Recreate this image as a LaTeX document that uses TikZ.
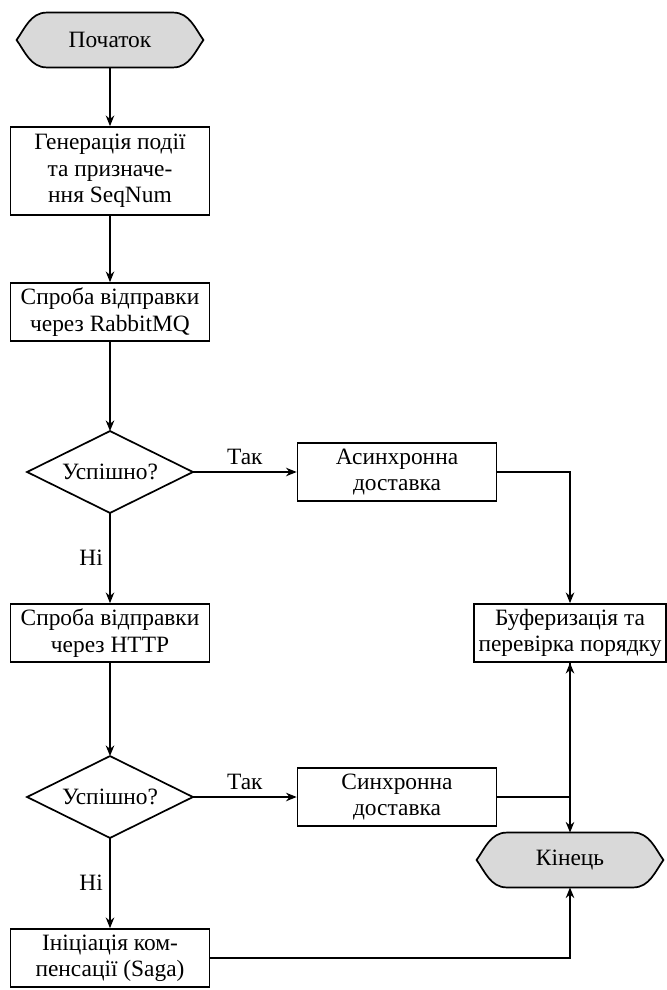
\documentclass[tikz,border=0pt]{standalone}
\usepackage{fontspec}
\setmainfont{Liberation Serif}
\usetikzlibrary{arrows.meta,calc,backgrounds}
\begin{document}
\begin{tikzpicture}[x=0.47pt,y=-0.47pt,
  font=\fontsize{11}{12.4}\selectfont,
  box/.style={draw, thick, align=center, inner sep=0pt, minimum width=199*0.47pt, minimum height=58*0.47pt},
  dec/.style={inner sep=0pt, minimum width=165*0.47pt, minimum height=81*0.47pt},
  term/.style={inner sep=0pt, minimum width=186*0.47pt, minimum height=54*0.47pt},
  termshape/.style={draw, thick, fill=gray!30},
  arr/.style={thick, -{Stealth[length=5pt,width=4pt]}},
  lbl/.style={inner sep=3pt}]
\useasboundingbox (0,0) rectangle (666,990);

\node[term] (start) at (110,40) {Початок};
\node[box, minimum height=88*0.47pt] (gen) at (110,171) {Генерація події\\та призначе-\\ння SeqNum};
\node[box] (try1) at (110,312) {Спроба відправки\\через RabbitMQ};
\node[dec] (d1) at (110,472) {Успішно?};
\node[box] (async) at (397,472) {Асинхронна\\доставка};
\node[box] (try2) at (110,633) {Спроба відправки\\через HTTP};
\node[box, minimum width=192*0.47pt] (buf) at (570,633) {Буферизація та\\перевірка порядку};
\node[dec] (d2) at (110,797) {Успішно?};
\node[box] (sync) at (397,797) {Синхронна\\доставка};
\node[term] (end) at (570,860) {Кінець};
\node[box] (init) at (110,958) {Ініціація ком-\\пенсації (Saga)};

\begin{scope}[on background layer]
\foreach \t in {start,end}{
  \filldraw[termshape] ($(\t.north west)+(30,0)$) -- ($(\t.north east)+(-30,0)$)
    .. controls +(16,0) and +(-8,-11) .. (\t.east)
    .. controls +(-8,11) and +(16,0) .. ($(\t.south east)+(-30,0)$)
    -- ($(\t.south west)+(30,0)$)
    .. controls +(-16,0) and +(8,11) .. (\t.west)
    .. controls +(8,-11) and +(-16,0) .. ($(\t.north west)+(30,0)$) -- cycle;
}
\end{scope}

\draw[thick] (d1.north) -- (d1.east) -- (d1.south) -- (d1.west) -- cycle;
\draw[thick] (d2.north) -- (d2.east) -- (d2.south) -- (d2.west) -- cycle;

\draw[arr] (start.south) -- (gen.north);
\draw[arr] (gen.south) -- (try1.north);
\draw[arr] (try1.south) -- (d1.north);
\draw[arr] (d1.east) -- node[lbl, above] {Так} (async.west);
\draw[arr] (d1.south) -- node[lbl, left] {Ні} (try2.north);
\draw[arr] (async.east) -| (buf.north);
\draw[arr] (try2.south) -- (d2.north);
\draw[arr] (d2.east) -- node[lbl, above] {Так} (sync.west);
\draw[arr] (d2.south) -- node[lbl, left] {Ні} (init.north);
\draw[arr] (sync.east) -| (buf.south);
\draw[arr] (buf.south) -- (end.north);
\draw[arr] (init.east) -| (end.south);
\end{tikzpicture}
\end{document}
